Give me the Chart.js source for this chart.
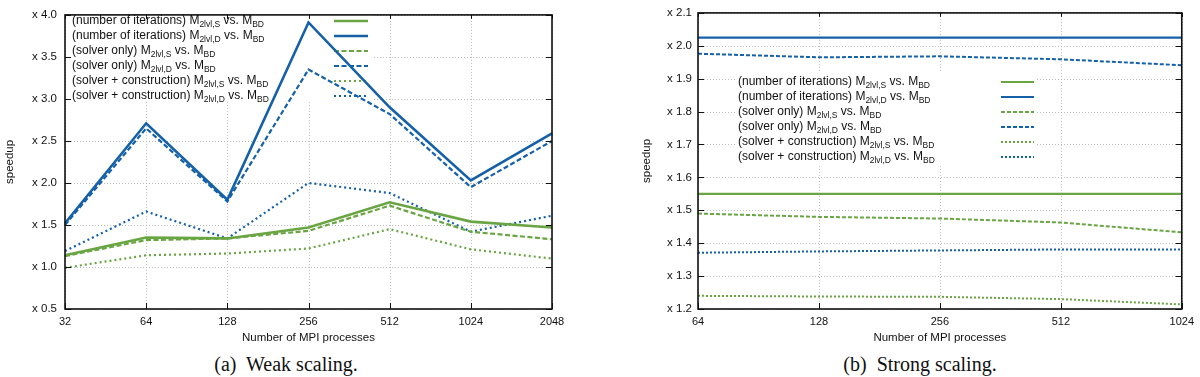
<!DOCTYPE html>
<html>
<head>
<meta charset="utf-8">
<script src="https://cdn.jsdelivr.net/npm/chart.js@4.4.1/dist/chart.umd.min.js"></script>
<style>
  body { margin: 0; background: #fff; width: 1200px; height: 377px; position: relative; overflow: hidden; }
  .panel { position: absolute; top: 0; width: 600px; height: 350px; }
  .caption { position: absolute; top: 353px; font: 20px "Liberation Serif", serif; line-height: 23px; color: #111; white-space: pre; transform: translateX(-50%); }
</style>
</head>
<body>
<div class="panel" style="left:0"><canvas id="weak" width="600" height="350"></canvas></div>
<div class="panel" style="left:600px"><canvas id="strong" width="600" height="350"></canvas></div>
<div class="caption" style="left:286px">(a)  Weak scaling.</div>
<div class="caption" style="left:920px">(b)  Strong scaling.</div>
<script>
// Weak scaling (a)
const weakProcs = ['32', '64', '128', '256', '512', '1024', '2048'];
const weakIterS = [1.14, 1.35, 1.34, 1.47, 1.77, 1.54, 1.47];
const weakIterD = [1.52, 2.71, 1.80, 3.91, 2.90, 2.03, 2.59];
const weakSolverS = [1.13, 1.32, 1.34, 1.43, 1.73, 1.42, 1.33];
const weakSolverD = [1.50, 2.65, 1.78, 3.35, 2.82, 1.95, 2.50];
const weakTotalS = [0.99, 1.14, 1.16, 1.22, 1.45, 1.21, 1.10];
const weakTotalD = [1.19, 1.66, 1.34, 2.00, 1.88, 1.42, 1.61];

// Strong scaling (b)
const strongProcs = ['64', '128', '256', '512', '1024'];
const strongIterS = [1.55, 1.55, 1.55, 1.55, 1.55];
const strongIterD = [2.025, 2.025, 2.025, 2.025, 2.025];
const strongSolverS = [1.49, 1.48, 1.475, 1.463, 1.433];
const strongSolverD = [1.976, 1.965, 1.968, 1.959, 1.941];
const strongTotalS = [1.24, 1.238, 1.237, 1.23, 1.214];
const strongTotalD = [1.371, 1.375, 1.378, 1.381, 1.381];

// legend text: name + M_sub vs. M_BD
const seriesNames = ['(number of iterations)', '(number of iterations)', '(solver only)', '(solver only)', '(solver + construction)', '(solver + construction)'];
const seriesSubs = ['2lvl,S', '2lvl,D', '2lvl,S', '2lvl,D', '2lvl,S', '2lvl,D'];
const refSub = 'BD';

const GREEN = '#6aa544';
const BLUE = '#1561a8';
const FONT = '"Liberation Sans", Arial, sans-serif';

function seg(ctx, x0, y0, x1, y1) {
    ctx.beginPath();
    ctx.moveTo(x0, y0);
    ctx.lineTo(x1, y1);
    ctx.stroke();
}

function drawLabel(ctx, x, y, name, sub) {
    const parts = [[name + ' M', 0], [sub, 1], [' vs. M', 0], [refSub, 1]];
    ctx.fillStyle = '#111';
    ctx.textBaseline = 'middle';
    ctx.textAlign = 'left';
    parts.forEach(([txt, isSub]) => {
        ctx.font = (isSub ? '8.5px ' : '12px ') + FONT;
        ctx.fillText(txt, x, y + (isSub ? 3.5 : 0));
        x += ctx.measureText(txt).width;
    });
}

// gnuplot-like frame: dotted grid, opaque key box, inward ticks on all sides
const gnuplotFrame = {
    id: 'gnuplotFrame',
    beforeDatasetsDraw(chart, args, opts) {
        const { ctx, chartArea: a, scales: { x, y } } = chart;
        ctx.save();
        ctx.strokeStyle = '#bcbcbc';
        ctx.lineWidth = 1;
        ctx.setLineDash([1, 2]);
        x.ticks.forEach((t, i) => {
            const px = Math.round(x.getPixelForTick(i)) + 0.5;
            seg(ctx, px, a.top, px, a.bottom);
        });
        y.ticks.forEach((t, i) => {
            const py = Math.round(y.getPixelForTick(i)) + 0.5;
            seg(ctx, a.left, py, a.right, py);
        });
        const k = opts.key;
        ctx.setLineDash([]);
        ctx.fillStyle = '#fff';
        ctx.fillRect(k.box[0], k.box[1], k.box[2], k.box[3]);
        chart.data.datasets.forEach((ds, i) => {
            const rowY = k.y + i * 15;
            drawLabel(ctx, k.textX, rowY + 1, seriesNames[i], seriesSubs[i]);
            ctx.strokeStyle = ds.borderColor;
            ctx.lineWidth = ds.borderWidth;
            ctx.setLineDash(ds.borderDash || []);
            seg(ctx, k.lineX[0], rowY + 1, k.lineX[1], rowY + 1);
        });
        ctx.restore();
    },
    afterDatasetsDraw(chart) {
        const { ctx, chartArea: a, scales: { x, y } } = chart;
        ctx.save();
        ctx.strokeStyle = '#111';
        ctx.lineWidth = 1;
        x.ticks.forEach((t, i) => {
            const px = Math.round(x.getPixelForTick(i)) + 0.5;
            seg(ctx, px, a.bottom, px, a.bottom - 6);
            seg(ctx, px, a.top, px, a.top + 4);
        });
        y.ticks.forEach((t, i) => {
            const py = Math.round(y.getPixelForTick(i)) + 0.5;
            seg(ctx, a.left, py, a.left + 6, py);
            seg(ctx, a.right, py, a.right - 6, py);
        });
        ctx.lineWidth = 1.6;
        ctx.strokeRect(a.left, a.top, a.right - a.left, a.bottom - a.top);
        ctx.restore();
    }
};

function makeDatasets(values, styles) {
    const colors = [GREEN, BLUE, GREEN, BLUE, GREEN, BLUE];
    return values.map((data, i) => {
        const st = styles[Math.floor(i / 2)];
        return {
            label: seriesNames[i] + ' M' + seriesSubs[i] + ' vs. M' + refSub,
            data: data,
            borderColor: colors[i],
            borderWidth: st.width,
            borderDash: st.dash,
            borderCapStyle: 'butt',
            pointRadius: 0,
            tension: 0,
            fill: false
        };
    });
}

function makeChart(id, labels, values, yCfg, layout) {
    return new Chart(document.getElementById(id), {
        type: 'line',
        data: { labels: labels, datasets: makeDatasets(values, layout.styles) },
        options: {
            responsive: false,
            animation: false,
            devicePixelRatio: 1,
            layout: { padding: layout.padding },
            scales: {
                x: {
                    type: 'category',
                    offset: false,
                    grid: { display: false, drawTicks: false },
                    border: { display: false },
                    ticks: { color: '#111', font: { family: FONT, size: 11 }, padding: 6, maxRotation: 0, autoSkip: false },
                    title: { display: true, text: 'Number of MPI processes', color: '#111', font: { family: FONT, size: 11.5 }, padding: { top: 0, bottom: 5.5 } },
                    afterFit: (s) => { s.height = 41; }
                },
                y: {
                    min: yCfg.min,
                    max: yCfg.max,
                    grid: { display: false, drawTicks: false },
                    border: { display: false },
                    ticks: { stepSize: yCfg.step, color: '#111', font: { family: FONT, size: 11.5 }, padding: layout.yPad, callback: (v) => 'x ' + v.toFixed(1) },
                    title: { display: true, text: 'speedup', color: '#111', font: { family: FONT, size: 11.5 }, padding: { top: layout.titlePad, bottom: 0 } },
                    afterFit: (s) => { s.width = layout.yWidth; }
                }
            },
            plugins: {
                legend: { display: false },
                tooltip: { enabled: false },
                gnuplotFrame: { key: layout.key }
            }
        },
        plugins: [gnuplotFrame]
    });
}

makeChart('weak', weakProcs,
    [weakIterS, weakIterD, weakSolverS, weakSolverD, weakTotalS, weakTotalD],
    { min: 0.5, max: 4.0, step: 0.5 },
    {
        padding: { left: 0, right: 48, top: 7, bottom: 0 },
        yWidth: 65, yPad: 8, titlePad: 3,
        styles: [{ width: 2.6, dash: [] }, { width: 2.2, dash: [5, 2.5] }, { width: 2.2, dash: [2, 3] }],
        key: { box: [67, 9, 306, 93], textX: 72, y: 20, lineX: [334, 368] }
    });

makeChart('strong', strongProcs,
    [strongIterS, strongIterD, strongSolverS, strongSolverD, strongTotalS, strongTotalD],
    { min: 1.2, max: 2.1, step: 0.1 },
    {
        padding: { left: 0, right: 14, top: 7, bottom: 0 },
        yWidth: 98, yPad: 6, titlePad: 40,
        styles: [{ width: 2.2, dash: [] }, { width: 2, dash: [4, 2] }, { width: 2, dash: [2, 2] }],
        key: { box: [136, 73, 301, 92], textX: 138, y: 81, lineX: [401, 434] }
    });
</script>
</body>
</html>
